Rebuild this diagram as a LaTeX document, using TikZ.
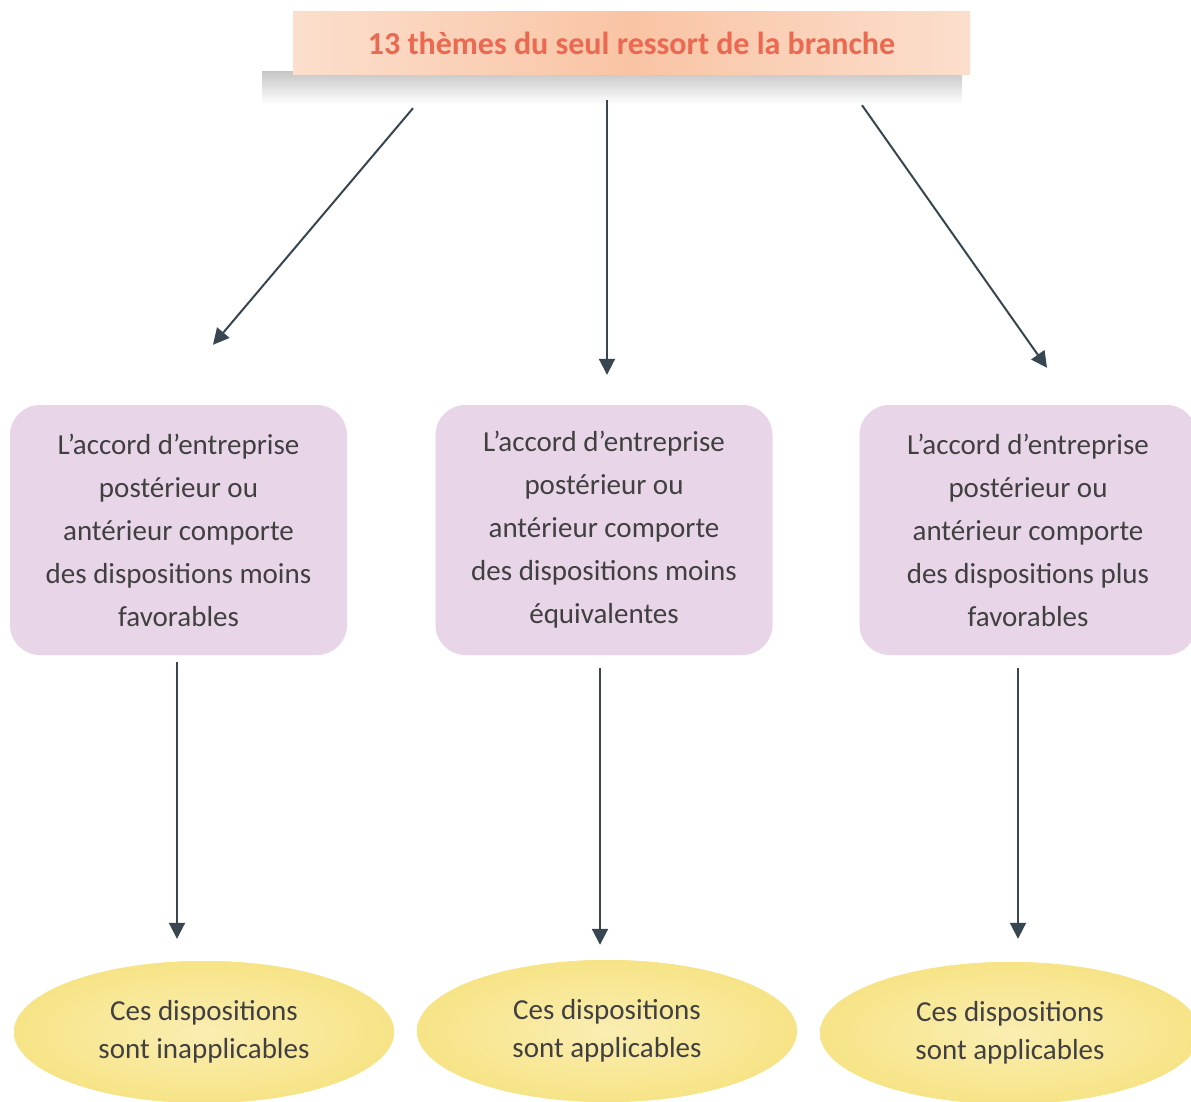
\documentclass[tikz,border=0pt]{standalone}
\usepackage{fontspec}
\setmainfont{Carlito}
\usetikzlibrary{arrows.meta, shapes.geometric}
\definecolor{salmon}{RGB}{235,105,80}
\definecolor{peach}{RGB}{249,196,164}
\definecolor{lilac}{RGB}{232,214,232}
\definecolor{straw}{RGB}{247,228,135}
\definecolor{ink}{RGB}{64,64,64}
\definecolor{slate}{RGB}{55,70,80}

\begin{document}
\begin{tikzpicture}[x=1pt, y=-1pt,
    every node/.style={font=\fontsize{29}{43}\selectfont, text=ink, align=center},
    theme/.style={rectangle, fill=peach, left color=peach!55, right color=peach!55, middle color=peach,
      minimum width=677, minimum height=63, text=salmon, font=\fontsize{32}{36}\selectfont\bfseries},
    accord/.style={rectangle, rounded corners=30, fill=lilac, minimum width=337, minimum height=250},
    effet/.style={ellipse, fill=straw, inner color=straw!65, outer color=straw,
      minimum width=380, minimum height=142, font=\fontsize{29}{38}\selectfont},
    arr/.style={draw=slate, line width=2, -{Triangle[length=16, width=16]}}]
    \useasboundingbox [fill=white] (0, 0) rectangle (1191, 1102);
    \fill [top color=black!22, bottom color=white] (262, 72) rectangle (962, 104);
    \node [theme] (top) at (631.5, 43.5) {13 thèmes du seul ressort de la branche};
    \node [accord] (acc1) at (178.5, 530) {L’accord d’entreprise\\postérieur ou\\antérieur comporte\\des dispositions moins\\favorables};
    \node [accord] (acc2) at (604, 530) {L’accord d’entreprise\\postérieur ou\\antérieur comporte\\des dispositions moins\\équivalentes};
    \node [accord] (acc3) at (1028, 530) {L’accord d’entreprise\\postérieur ou\\antérieur comporte\\des dispositions plus\\favorables};
    \node [effet] (res1) at (204, 1032) {Ces dispositions\\sont inapplicables};
    \node [effet] (res2) at (607, 1031) {Ces dispositions\\sont applicables};
    \node [effet] (res3) at (1010, 1033) {Ces dispositions\\sont applicables};
    \draw [arr] ([shift={(-218.5, 33)}]top.south) -- ([shift={(34.5, -60)}]acc1.north);
    \draw [arr] ([shift={(-24.5, 25)}]top.south) -- ([shift={(3, -30)}]acc2.north);
    \draw [arr] ([shift={(230.5, 30)}]top.south) -- ([shift={(19, -37)}]acc3.north);
    \draw [arr] ([shift={(-1.5, 7)}]acc1.south) -- ([shift={(-1.5, -22)}]acc1.south |- res1.north);
    \draw [arr] ([shift={(-4, 13)}]acc2.south) -- ([shift={(-4, -15)}]acc2.south |- res2.north);
    \draw [arr] ([shift={(-10, 13)}]acc3.south) -- ([shift={(-10, -23)}]acc3.south |- res3.north);
  \end{tikzpicture}
\end{document}
